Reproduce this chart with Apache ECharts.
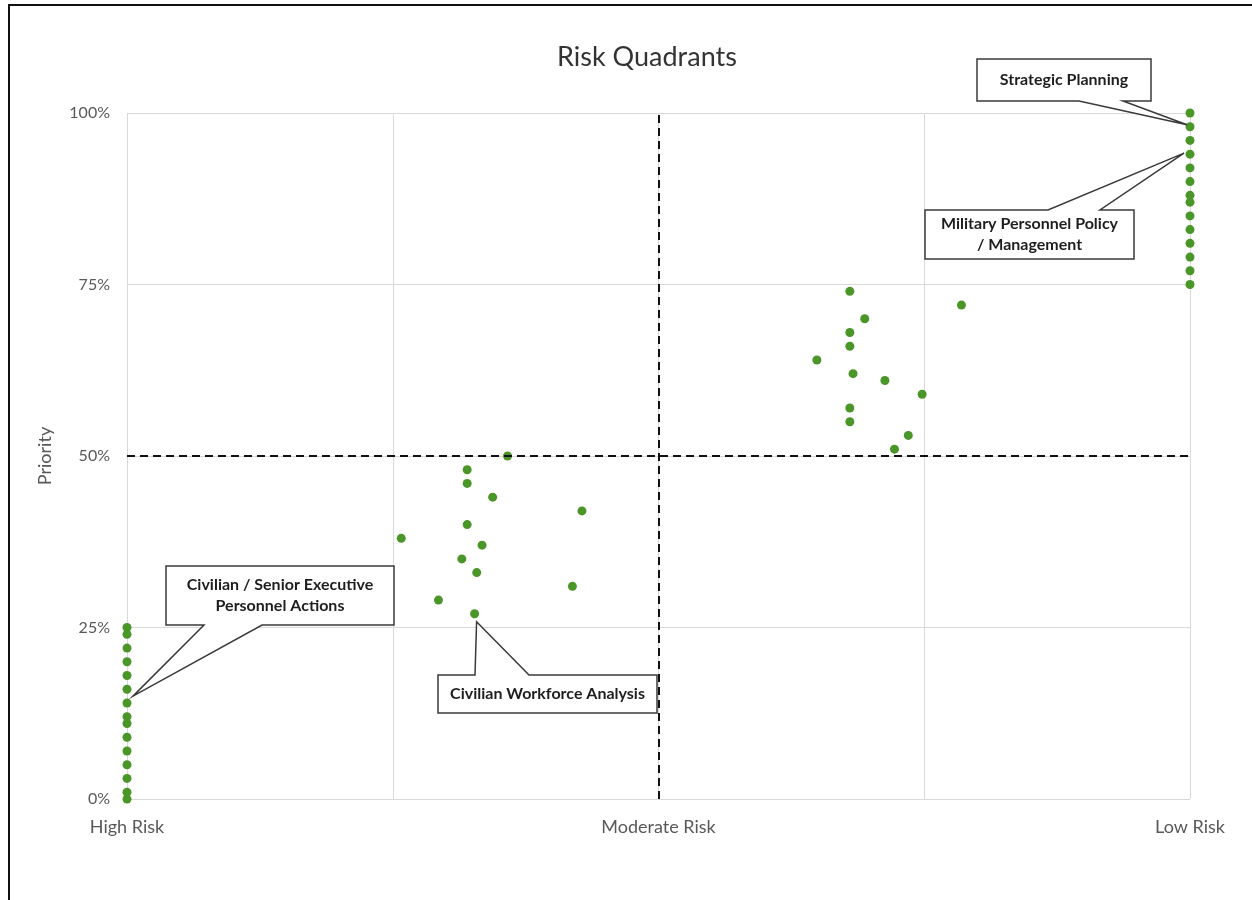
<!DOCTYPE html>
<html>
<head>
<meta charset="utf-8">
<title>Risk Quadrants</title>
<script src="https://cdn.jsdelivr.net/npm/echarts@6/dist/echarts.min.js"></script>
<style>
  html, body { margin: 0; padding: 0; background: #fff; }
  #chart { width: 1252px; height: 900px; }
</style>
</head>
<body>
<div id="chart"></div>
<script>
// Risk score on the horizontal axis (0 = high risk, 100 = low risk), priority in percent.
const riskTickLabels = { 0: 'High Risk', 50: 'Moderate Risk', 100: 'Low Risk' };
const priorityTicks = [0, 25, 50, 75, 100];

// Column of items rated highest risk
const highRiskPriority = [25, 24, 22, 20, 18, 16, 14, 12, 11, 9, 7, 5, 3, 1, 0];
// Column of items rated lowest risk
const lowRiskPriority = [100, 98, 96, 94, 92, 90, 88, 87, 85, 83, 81, 79, 77, 75];
// Moderate-to-high risk, lower priority
const midHighRiskScore = [35.8, 32, 32, 34.4, 42.8, 32, 25.8, 33.4, 31.5, 32.9, 41.9, 29.3, 32.7];
const midHighRiskPriority = [50, 48, 46, 44, 42, 40, 38, 37, 35, 33, 31, 29, 27];
// Moderate-to-low risk, higher priority
const midLowRiskScore = [68, 78.5, 69.4, 68, 68, 64.9, 68.3, 71.3, 74.8, 68, 68, 73.5, 72.2];
const midLowRiskPriority = [74, 72, 70, 68, 66, 64, 62, 61, 59, 57, 55, 53, 51];

// Quadrant dividers
const riskDivider = 50;
const priorityDivider = 50;

// Callout labels and the point each one points at
const callouts = [
  { text: ['Strategic Planning'], anchor: [100, 98], box: [977, 59, 1151, 101], side: 'bottom', base: [1079, 1123], nudge: [-3, -2] },
  { text: ['Military Personnel Policy', '/ Management'], anchor: [100, 94], box: [925, 210, 1134, 259], side: 'top', base: [1048, 1100], nudge: [-6, -1] },
  { text: ['Civilian / Senior Executive', 'Personnel Actions'], anchor: [0, 15], box: [166, 566, 394, 625], side: 'bottom', base: [204, 262], nudge: [6, 0] },
  { text: ['Civilian Workforce Analysis'], anchor: [32.7, 27], box: [438, 675, 657, 713], side: 'top', base: [475, 529], nudge: [2, 8] }
];

const points = []
  .concat(highRiskPriority.map(p => [0, p]))
  .concat(midHighRiskScore.map((x, i) => [x, midHighRiskPriority[i]]))
  .concat(midLowRiskScore.map((x, i) => [x, midLowRiskPriority[i]]))
  .concat(lowRiskPriority.map(p => [100, p]));

const FONT = 'Lato, "Open Sans", "DejaVu Sans", sans-serif';
const chart = echarts.init(document.getElementById('chart'), null, { renderer: 'canvas' });

chart.setOption({
  animation: false,
  backgroundColor: '#ffffff',
  title: {
    text: 'Risk Quadrants',
    left: 642, top: 39, textAlign: 'center',
    textStyle: { fontFamily: FONT, fontSize: 27, fontWeight: 'normal', color: '#333333' }
  },
  grid: { left: 127, right: 62, top: 113, bottom: 101, containLabel: false },
  xAxis: {
    type: 'value', min: 0, max: 100, interval: 25,
    axisLine: { show: false }, axisTick: { show: false },
    splitLine: { show: true, lineStyle: { color: '#d9d9d9', width: 1 } },
    axisLabel: {
      margin: 19, fontFamily: FONT, fontSize: 18, color: '#595959',
      formatter: v => riskTickLabels[v] || ''
    }
  },
  yAxis: {
    type: 'value', min: priorityTicks[0], max: priorityTicks[priorityTicks.length - 1], interval: 25,
    name: 'Priority', nameLocation: 'middle', nameGap: 73, nameRotate: 90,
    nameTextStyle: { fontFamily: FONT, fontSize: 18, color: '#595959' },
    axisLine: { show: false }, axisTick: { show: false },
    splitLine: { show: true, lineStyle: { color: '#d9d9d9', width: 1 } },
    axisLabel: { margin: 17, fontFamily: FONT, fontSize: 16, color: '#595959', formatter: '{value}%' }
  },
  series: [{
    type: 'scatter',
    data: points,
    symbol: 'circle',
    symbolSize: 9,
    itemStyle: { color: '#4a9628', opacity: 1 },
    z: 3,
    markLine: {
      silent: true,
      symbol: 'none',
      label: { show: false },
      lineStyle: { color: '#111111', type: [8, 5], width: 2 },
      data: [{ xAxis: riskDivider }, { yAxis: priorityDivider }],
      z: 4
    }
  }]
});

// Draw the rectangular callouts with a wedge pointing at the anchor point.
function buildCallouts() {
  const g = [];
  callouts.forEach(c => {
    const p = chart.convertToPixel({ gridIndex: 0 }, c.anchor);
    const tip = [p[0] + c.nudge[0], p[1] + c.nudge[1]];
    const [x0, y0, x1, y1] = c.box;
    const [b0, b1] = c.base;
    let pts;
    if (c.side === 'bottom') {
      pts = [[x0, y0], [x1, y0], [x1, y1], [b1, y1], tip, [b0, y1], [x0, y1]];
    } else {
      pts = [[x0, y0], [b0, y0], tip, [b1, y0], [x1, y0], [x1, y1], [x0, y1]];
    }
    g.push({
      type: 'polygon',
      shape: { points: pts },
      style: { fill: '#ffffff', stroke: '#3a3a3a', lineWidth: 1.5 },
      z: 100
    });
    g.push({
      type: 'text',
      x: (x0 + x1) / 2,
      y: (y0 + y1) / 2,
      style: {
        text: c.text.join('\n'),
        align: 'center',
        verticalAlign: 'middle',
        fontFamily: FONT,
        fontWeight: 'bold',
        fontSize: 16,
        lineHeight: 21,
        fill: '#1e1e1e'
      },
      z: 101
    });
  });
  // Outer frame along the left and top edges
  g.push({ type: 'line', shape: { x1: 9, y1: 5, x2: 9, y2: 900 }, style: { stroke: '#111111', lineWidth: 2 }, z: 110 });
  g.push({ type: 'line', shape: { x1: 8, y1: 5, x2: 1252, y2: 5 }, style: { stroke: '#111111', lineWidth: 2 }, z: 110 });
  chart.setOption({ graphic: g });
}
buildCallouts();
</script>
</body>
</html>
